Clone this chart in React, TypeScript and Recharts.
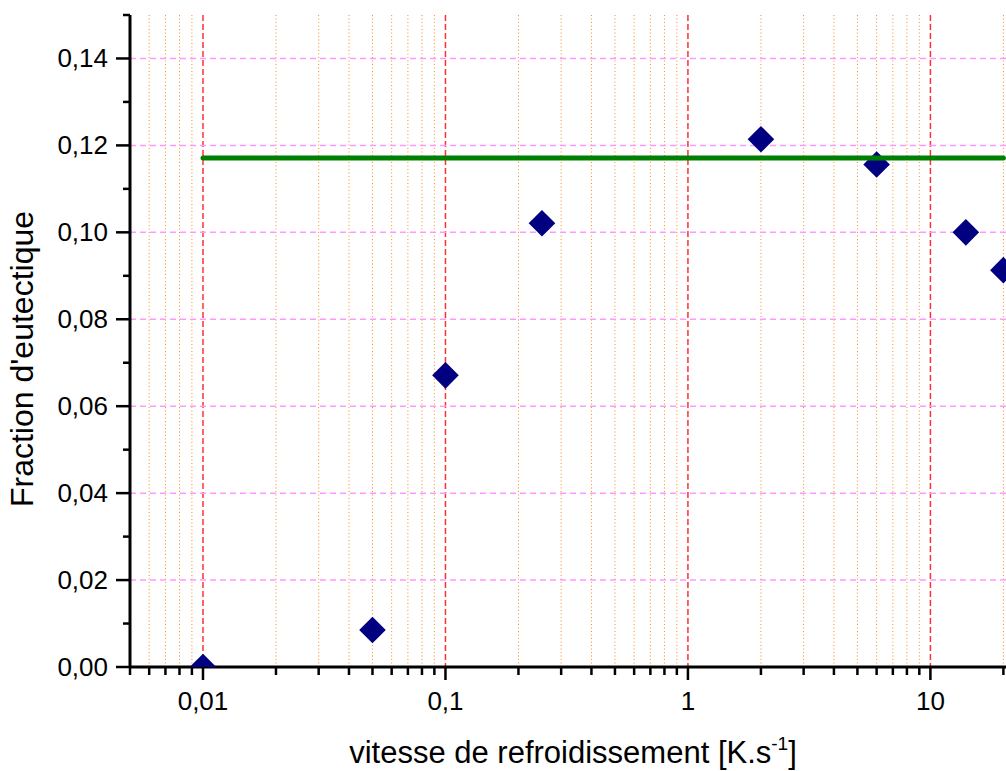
import React from 'react';
import { ScatterChart, Scatter, XAxis, YAxis, CartesianGrid, Label } from 'recharts';

const coolingRates = [0.01, 0.05, 0.1, 0.25, 2, 6, 14, 20];
const eutecticFractions = [0.0, 0.0085, 0.0671, 0.1021, 0.1214, 0.1156, 0.1, 0.0913];
const meanFraction = 0.1171;
const meanRange = [0.01, 20];

const xTicks = [0.005, 0.006, 0.007, 0.008, 0.009, 0.01, 0.02, 0.03, 0.04, 0.05, 0.06, 0.07, 0.08, 0.09,
  0.1, 0.2, 0.3, 0.4, 0.5, 0.6, 0.7, 0.8, 0.9, 1, 2, 3, 4, 5, 6, 7, 8, 9, 10, 20];
const xMajor = [0.01, 0.1, 1, 10];
const xMajorLabels = ['0,01', '0,1', '1', '10'];
const xMinorGrid = xTicks.filter((v) => v !== 0.005 && !xMajor.includes(v));
const yTicks = [0, 0.01, 0.02, 0.03, 0.04, 0.05, 0.06, 0.07, 0.08, 0.09, 0.1, 0.11, 0.12, 0.13, 0.14, 0.15];
const yMajor = [0, 0.02, 0.04, 0.06, 0.08, 0.1, 0.12, 0.14];
const yGrid = [0.02, 0.04, 0.06, 0.08, 0.1, 0.12, 0.14];

const points = coolingRates.map((x, i) => ({ x, y: eutecticFractions[i] }));
const meanLine = meanRange.map((x) => ({ x, y: meanFraction }));

const FONT = "'Liberation Sans', Arial, Helvetica, sans-serif";

const XTick = (props: any) => {
  const { x, y, payload } = props;
  const v = payload.value;
  const idx = xMajor.findIndex((m) => Math.abs(m - v) < 1e-9);
  const major = idx >= 0;
  return (
    <g>
      <line x1={x} y1={y} x2={x} y2={y + (major ? 13 : 8)} stroke="#000" strokeWidth={2.5} />
      {major && (
        <text x={x} y={y + 43} textAnchor="middle" fontFamily={FONT} fontSize={26} fill="#000">
          {xMajorLabels[idx]}
        </text>
      )}
    </g>
  );
};

const YTick = (props: any) => {
  const { x, y, payload } = props;
  const v = payload.value;
  const major = yMajor.some((m) => Math.abs(m - v) < 1e-9);
  return (
    <g>
      <line x1={x} y1={y} x2={x - (major ? 14 : 7)} y2={y} stroke="#000" strokeWidth={2.5} />
      {major && (
        <text x={x - 22} y={y + 9} textAnchor="end" fontFamily={FONT} fontSize={26} fill="#000">
          {v.toFixed(2).replace('.', ',')}
        </text>
      )}
    </g>
  );
};

const Diamond = (props: any) => {
  const { cx, cy } = props;
  if (cx == null || cy == null) return null;
  const r = 13.3;
  return <polygon points={`${cx},${cy - r} ${cx + r},${cy} ${cx},${cy + r} ${cx - r},${cy}`} fill="#000080" />;
};

const NoShape = () => null;

export default function App() {
  return (
    <div style={{ position: 'absolute', left: 0, top: 0, background: '#fff' }}>
      <ScatterChart width={1006} height={771} margin={{ top: 15, right: 0, bottom: 0, left: 0 }}>
        <CartesianGrid
          horizontal={false}
          verticalValues={xMinorGrid}
          stroke="#ff8a1a"
          strokeWidth={1}
          strokeDasharray="1 2.5"
        />
        <CartesianGrid
          horizontal={false}
          verticalValues={xMajor}
          stroke="#ff3030"
          strokeWidth={1.5}
          strokeDasharray="6 3"
        />
        <CartesianGrid
          vertical={false}
          horizontalValues={yGrid}
          stroke="#ff99ff"
          strokeWidth={1.5}
          strokeDasharray="6 4"
        />
        <XAxis
          dataKey="x"
          type="number"
          scale="log"
          domain={[0.005, 20.5]}
          ticks={xTicks}
          interval={0}
          allowDataOverflow
          height={104}
          tickSize={0}
          tickMargin={0}
          tickLine={false}
          axisLine={{ stroke: '#000', strokeWidth: 3 }}
          tick={<XTick />}
        >
          <Label
            content={(p: any) => {
              const vb = p.viewBox;
              return (
                <text x={vb.x + vb.width / 2 + 5} y={vb.y + 96} textAnchor="middle" fontFamily={FONT} fontSize={31} fill="#000">
                  vitesse de refroidissement [K.s
                  <tspan fontSize={19} dy={-13}>-1</tspan>
                  <tspan dy={13}>]</tspan>
                </text>
              );
            }}
          />
        </XAxis>
        <YAxis
          dataKey="y"
          type="number"
          domain={[0, 0.15]}
          ticks={yTicks}
          interval={0}
          allowDataOverflow
          width={130}
          tickSize={0}
          tickMargin={0}
          tickLine={false}
          axisLine={{ stroke: '#000', strokeWidth: 3 }}
          tick={<YTick />}
        >
          <Label
            content={(p: any) => {
              const vb = p.viewBox;
              const cx = vb.x + 33;
              const cy = vb.y + vb.height / 2 + 18;
              return (
                <text x={cx} y={cy} transform={`rotate(-90, ${cx}, ${cy})`} textAnchor="middle" fontFamily={FONT} fontSize={32} fill="#000">
                  Fraction d'eutectique
                </text>
              );
            }}
          />
        </YAxis>
        <Scatter data={points} shape={<Diamond />} isAnimationActive={false} />
        <Scatter
          data={meanLine}
          shape={<NoShape />}
          line={{ stroke: '#008000', strokeWidth: 5, strokeLinecap: 'round' }}
          isAnimationActive={false}
        />
      </ScatterChart>
    </div>
  );
}
